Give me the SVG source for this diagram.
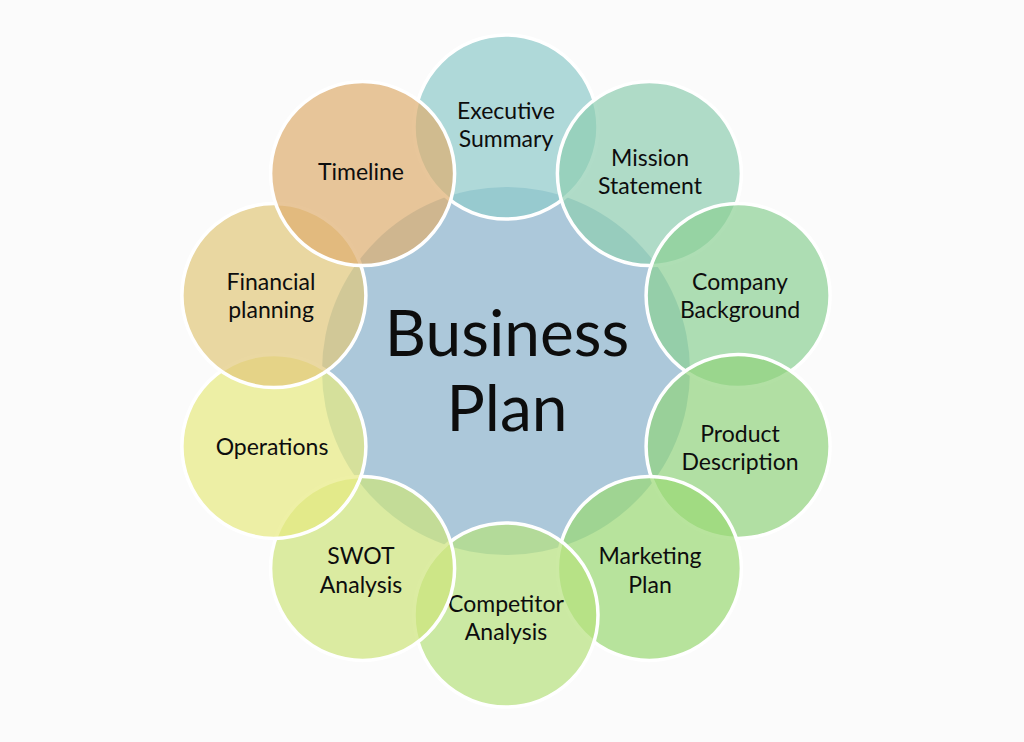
<svg xmlns="http://www.w3.org/2000/svg" width="1024" height="742" viewBox="0 0 1024 742">
<style>
.bg{fill:#fbfbfb}
.ring{stroke:#ffffff;stroke-width:3.5;fill-opacity:0.7}
.lbl{font-family:Lato,"Open Sans","Liberation Sans",sans-serif;font-size:23px;fill:#0d0d0d;text-anchor:middle}
.big{font-family:Lato,"Open Sans","Liberation Sans",sans-serif;font-size:64px;fill:#0d0d0d;text-anchor:middle}
</style>
<rect class="bg" x="0" y="0" width="1024" height="742"/>
<g id="center">
<circle cx="506" cy="371" r="184" fill="#acc8da"/>
<text class="big" x="507" y="356">Business</text>
<text class="big" x="507" y="431">Plan</text>
</g>
<g id="connectors"></g>
<g id="executive-summary">
<circle class="ring" cx="506" cy="127" r="92" fill="#8ecaca"/>
<text class="lbl" x="506" y="119">Executive</text>
<text class="lbl" x="506" y="147">Summary</text>
</g>
<g id="mission-statement">
<circle class="ring" cx="649.4" cy="173.6" r="92" fill="#8ecdb0"/>
<text class="lbl" x="650" y="166">Mission</text>
<text class="lbl" x="650" y="194">Statement</text>
</g>
<g id="company-background">
<circle class="ring" cx="738.1" cy="295.6" r="92" fill="#8bd094"/>
<text class="lbl" x="740" y="290">Company</text>
<text class="lbl" x="740" y="318">Background</text>
</g>
<g id="product-description">
<circle class="ring" cx="738.1" cy="446.4" r="92" fill="#91d37d"/>
<text class="lbl" x="740" y="442">Product</text>
<text class="lbl" x="740" y="470">Description</text>
</g>
<g id="marketing-plan">
<circle class="ring" cx="649.4" cy="568.4" r="92" fill="#9ad874"/>
<text class="lbl" x="650" y="564">Marketing</text>
<text class="lbl" x="650" y="593">Plan</text>
</g>
<g id="competitor-analysis">
<circle class="ring" cx="506" cy="615" r="92" fill="#b6e17d"/>
<text class="lbl" x="506" y="612">Competitor</text>
<text class="lbl" x="506" y="640">Analysis</text>
</g>
<g id="swot-analysis">
<circle class="ring" cx="362.6" cy="568.4" r="92" fill="#cde47a"/>
<text class="lbl" x="361" y="564">SWOT</text>
<text class="lbl" x="361" y="593">Analysis</text>
</g>
<g id="operations">
<circle class="ring" cx="273.9" cy="446.4" r="92" fill="#e7ea80"/>
<text class="lbl" x="272" y="455">Operations</text>
</g>
<g id="financial-planning">
<circle class="ring" cx="273.9" cy="295.6" r="92" fill="#e1c77a"/>
<text class="lbl" x="271" y="290">Financial</text>
<text class="lbl" x="271" y="318">planning</text>
</g>
<g id="timeline">
<circle class="ring" cx="362.6" cy="173.6" r="92" fill="#deae6f"/>
<text class="lbl" x="361" y="180">Timeline</text>
</g>
</svg>
